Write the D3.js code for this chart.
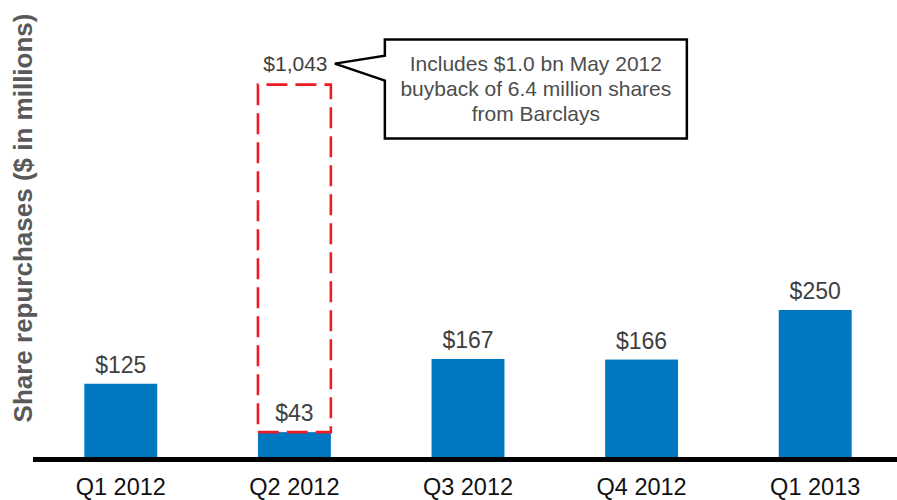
<!DOCTYPE html>
<html>
<head>
<meta charset="utf-8">
<script src="https://cdn.jsdelivr.net/npm/d3@7"></script>
<style>
  body { margin: 0; background: #fff; }
  svg { display: block; font-family: "Liberation Sans", Arial, sans-serif; }
</style>
</head>
<body>
<div id="chart"></div>
<script>
var width = 897;
var height = 500;

var quarters = ["Q1 2012", "Q2 2012", "Q3 2012", "Q4 2012", "Q1 2013"];
var repurchases = [125, 43, 167, 166, 250];
var valueLabels = ["$125", "$43", "$167", "$166", "$250"];

// Q2 2012 total incl. the Barclays buyback, drawn as a broken (not to scale) box
var totalQuarter = "Q2 2012";
var totalLabel = "$1,043";
var totalDrawnAs = 632;
var calloutLines = [
  "Includes $1.0 bn May 2012",
  "buyback of 6.4 million shares",
  "from Barclays"
];

var svg = d3.select("#chart")
  .append("svg")
  .attr("width", width)
  .attr("height", height);

var x = d3.scaleBand()
  .domain(quarters)
  .range([34, 902])
  .paddingInner(0.58)
  .paddingOuter(0.29);

var y = d3.scaleLinear()
  .domain([0, 250])
  .range([457.5, 310]);

// bars
svg.selectAll("rect.bar")
  .data(repurchases)
  .enter()
  .append("rect")
    .attr("class", "bar")
    .attr("x", function(d, i) { return x(quarters[i]); })
    .attr("y", function(d) { return y(d); })
    .attr("width", x.bandwidth())
    .attr("height", function(d) { return y(0) - y(d); })
    .attr("fill", "#0077c0");

// value labels
svg.selectAll("text.value")
  .data(repurchases)
  .enter()
  .append("text")
    .attr("class", "value")
    .text(function(d, i) { return valueLabels[i]; })
    .attr("text-anchor", "middle")
    .attr("x", function(d, i) { return x(quarters[i]) + x.bandwidth() / 2; })
    .attr("y", function(d) { return y(d) - 11; })
    .attr("fill", "#404040")
    .attr("font-size", "23px");

// dashed box for the Q2 total
var q2Index = quarters.indexOf(totalQuarter);
var boxTop = y(totalDrawnAs);
var boxBottom = y(repurchases[q2Index]);
var bx0 = x(totalQuarter), bx1 = x(totalQuarter) + x.bandwidth();

svg.append("path")
  .attr("d", "M" + bx0 + "," + boxBottom + "V" + boxTop + "H" + bx1 + "V" + boxBottom + "Z")
  .attr("fill", "none")
  .attr("stroke", "#ed1c24")
  .attr("stroke-width", 2.6)
  .attr("stroke-dasharray", "21,8")
  .attr("stroke-dashoffset", -8);

svg.append("text")
  .text(totalLabel)
  .attr("text-anchor", "middle")
  .attr("x", bx0 + x.bandwidth() / 2 + 1)
  .attr("y", boxTop - 14)
  .attr("fill", "#404040")
  .attr("font-size", "21px");

// callout
var tipX = bx1 + 4, tipY = boxTop - 21;
var cx0 = tipX + 50, cx1 = cx0 + 302, cy0 = boxTop - 45, cy1 = cy0 + 99;
svg.append("path")
  .attr("d", "M" + cx0 + "," + cy0 + "H" + cx1 + "V" + cy1 + "H" + cx0 +
    "V" + (tipY + 17) + "L" + tipX + "," + tipY + "L" + cx0 + "," + (tipY - 8) + "Z")
  .attr("fill", "#fff")
  .attr("stroke", "#000")
  .attr("stroke-width", 2.5)
  .attr("stroke-linejoin", "miter");

svg.selectAll("text.callout")
  .data(calloutLines)
  .enter()
  .append("text")
    .attr("class", "callout")
    .text(function(d) { return d; })
    .attr("text-anchor", "middle")
    .attr("x", (cx0 + cx1) / 2)
    .attr("y", function(d, i) { return cy0 + 31 + i * 25; })
    .attr("fill", "#4d4d4d")
    .attr("font-size", "21px");

// baseline
svg.append("line")
  .attr("x1", 33)
  .attr("x2", width)
  .attr("y1", y(0) + 2)
  .attr("y2", y(0) + 2)
  .attr("stroke", "#000")
  .attr("stroke-width", 5);

// category labels
var xAxis = svg.append("g")
  .attr("transform", "translate(0," + (y(0) + 4) + ")")
  .call(d3.axisBottom(x).tickSize(0).tickPadding(17));
xAxis.select(".domain").remove();
xAxis.selectAll("text")
  .attr("font-size", "23.5px")
  .attr("font-family", "Liberation Sans, Arial, sans-serif")
  .attr("fill", "#111");

// y title
svg.append("text")
  .text("Share repurchases ($ in millions)")
  .attr("transform", "translate(32,218) rotate(-90)")
  .attr("text-anchor", "middle")
  .attr("font-weight", "bold")
  .attr("font-size", "26px")
  .attr("fill", "#595959");
</script>
</body>
</html>
